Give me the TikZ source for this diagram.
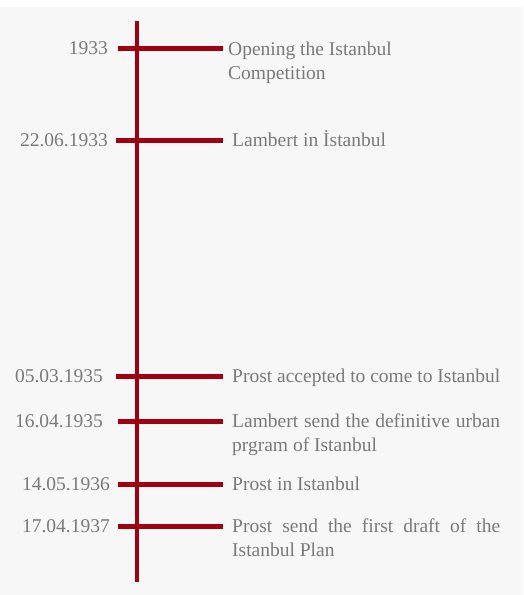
\documentclass[tikz,border=0pt]{standalone}
\usepackage{fontspec}
\setmainfont{Liberation Serif}
\definecolor{tlred}{HTML}{A0000F}
\definecolor{tltext}{HTML}{7A7A7A}
\definecolor{tlbg}{HTML}{F7F7F7}
\newcommand{\jline}[1]{\makebox[268pt][s]{#1}}
\begin{document}
\begin{tikzpicture}[x=1pt,y=-1pt,
  tick/.style={draw=tlred,line width=5pt},
  axis/.style={draw=tlred,line width=4pt},
  datelbl/.style={anchor=base east,text=tltext,font=\fontsize{19.5}{24}\selectfont,inner sep=0pt},
  evlbl/.style={anchor=base west,text=tltext,font=\fontsize{19.5}{24}\selectfont,inner sep=0pt,align=left}]
\fill[white] (0,0) rectangle (523,595);
\useasboundingbox (0,0) rectangle (523,595);
\fill[tlbg] (0,7) rectangle (523,595);
\coordinate (top) at (137,21);
\coordinate (bot) at (137,582);
\draw[axis] (top) -- (bot);
\foreach \n/\y/\xs in {a/48/118,b/140/116,c/376/116,d/421/118,e/484/118,f/526/118}{
  \coordinate (\n L) at (\xs,\y);
  \coordinate (\n R) at (223,\y);
  \draw[tick] (\n L) -- (\n R);
}
\node[datelbl] (da) at (108,54) {1933};
\node[datelbl] (db) at (108,146) {22.06.1933};
\node[datelbl] (dc) at (103,382) {05.03.1935};
\node[datelbl] (dd) at (103,427) {16.04.1935};
\node[datelbl] (de) at (110,490) {14.05.1936};
\node[datelbl] (df) at (110,532) {17.04.1937};
\node[evlbl] (ea) at (228,79) {Opening the Istanbul\\Competition};
\node[evlbl] (eb) at (232,146) {Lambert in İstanbul};
\node[evlbl] (ec) at (232,382) {Prost accepted to come to Istanbul};
\node[evlbl] (ed) at (232,451) {\jline{Lambert send the definitive urban}\\prgram of Istanbul};
\node[evlbl] (ee) at (232,490) {Prost in Istanbul};
\node[evlbl] (ef) at (232,556) {\jline{Prost send the first draft of the}\\Istanbul Plan};
\end{tikzpicture}
\end{document}
